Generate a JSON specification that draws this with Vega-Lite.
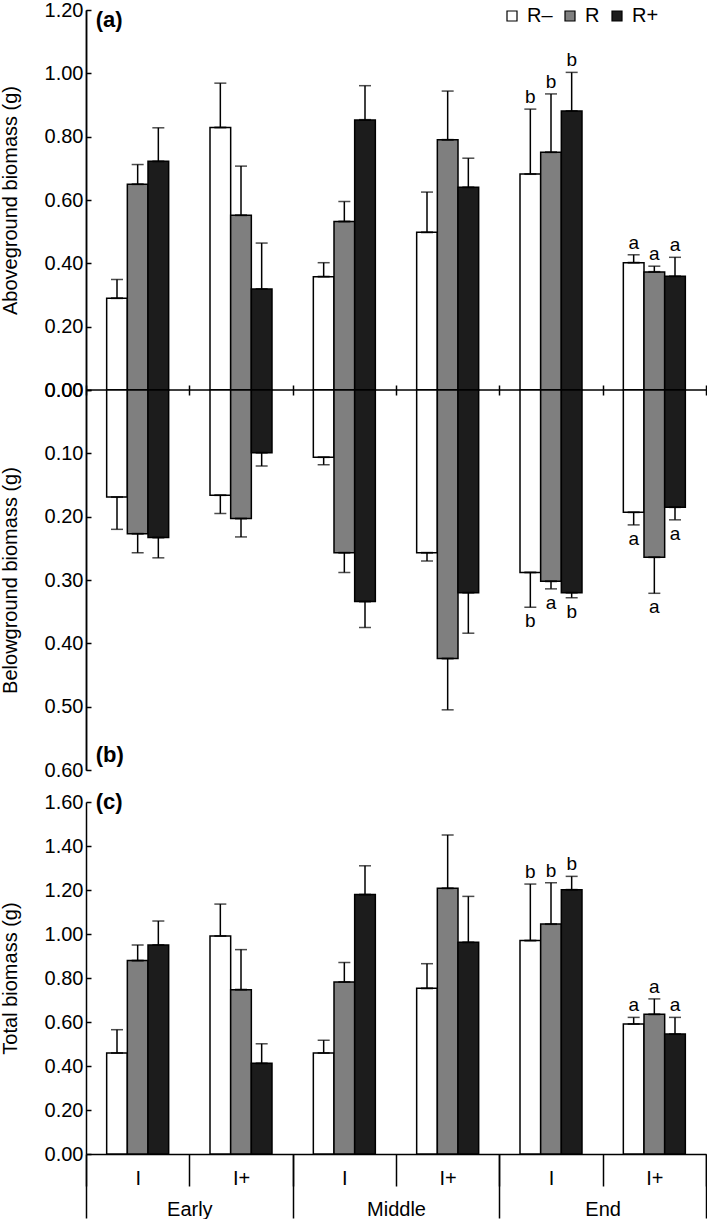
{
  "$schema": "https://vega.github.io/schema/vega-lite/v6.json",
  "padding": {"left": 0, "top": 0, "right": 0, "bottom": 0},
  "datasets": {
    "bio": [
      {"period": "Early", "group": "Early I", "treat": "R–", "above": 0.290, "aboveHi": 0.349, "below": 0.169, "belowHi": 0.220, "total": 0.459, "totalHi": 0.565, "la": "", "lb": "", "lt": ""},
      {"period": "Early", "group": "Early I", "treat": "R", "above": 0.650, "aboveHi": 0.712, "below": 0.227, "belowHi": 0.257, "total": 0.879, "totalHi": 0.950, "la": "", "lb": "", "lt": ""},
      {"period": "Early", "group": "Early I", "treat": "R+", "above": 0.722, "aboveHi": 0.828, "below": 0.233, "belowHi": 0.265, "total": 0.950, "totalHi": 1.059, "la": "", "lb": "", "lt": ""},
      {"period": "Early", "group": "Early I+", "treat": "R–", "above": 0.829, "aboveHi": 0.969, "below": 0.166, "belowHi": 0.195, "total": 0.991, "totalHi": 1.136, "la": "", "lb": "", "lt": ""},
      {"period": "Early", "group": "Early I+", "treat": "R", "above": 0.552, "aboveHi": 0.707, "below": 0.203, "belowHi": 0.232, "total": 0.747, "totalHi": 0.929, "la": "", "lb": "", "lt": ""},
      {"period": "Early", "group": "Early I+", "treat": "R+", "above": 0.319, "aboveHi": 0.464, "below": 0.099, "belowHi": 0.120, "total": 0.412, "totalHi": 0.501, "la": "", "lb": "", "lt": ""},
      {"period": "Middle", "group": "Middle I", "treat": "R–", "above": 0.358, "aboveHi": 0.402, "below": 0.106, "belowHi": 0.118, "total": 0.459, "totalHi": 0.517, "la": "", "lb": "", "lt": ""},
      {"period": "Middle", "group": "Middle I", "treat": "R", "above": 0.532, "aboveHi": 0.595, "below": 0.257, "belowHi": 0.288, "total": 0.782, "totalHi": 0.871, "la": "", "lb": "", "lt": ""},
      {"period": "Middle", "group": "Middle I", "treat": "R+", "above": 0.853, "aboveHi": 0.961, "below": 0.334, "belowHi": 0.375, "total": 1.179, "totalHi": 1.310, "la": "", "lb": "", "lt": ""},
      {"period": "Middle", "group": "Middle I+", "treat": "R–", "above": 0.498, "aboveHi": 0.625, "below": 0.257, "belowHi": 0.270, "total": 0.753, "totalHi": 0.865, "la": "", "lb": "", "lt": ""},
      {"period": "Middle", "group": "Middle I+", "treat": "R", "above": 0.790, "aboveHi": 0.944, "below": 0.424, "belowHi": 0.505, "total": 1.208, "totalHi": 1.450, "la": "", "lb": "", "lt": ""},
      {"period": "Middle", "group": "Middle I+", "treat": "R+", "above": 0.640, "aboveHi": 0.732, "below": 0.320, "belowHi": 0.384, "total": 0.962, "totalHi": 1.171, "la": "", "lb": "", "lt": ""},
      {"period": "End", "group": "End I", "treat": "R–", "above": 0.682, "aboveHi": 0.887, "below": 0.288, "belowHi": 0.343, "total": 0.970, "totalHi": 1.227, "la": "b", "lb": "b", "lt": "b"},
      {"period": "End", "group": "End I", "treat": "R", "above": 0.751, "aboveHi": 0.935, "below": 0.302, "belowHi": 0.314, "total": 1.045, "totalHi": 1.233, "la": "b", "lb": "a", "lt": "b"},
      {"period": "End", "group": "End I", "treat": "R+", "above": 0.881, "aboveHi": 1.003, "below": 0.320, "belowHi": 0.328, "total": 1.201, "totalHi": 1.262, "la": "b", "lb": "b", "lt": "b"},
      {"period": "End", "group": "End I+", "treat": "R–", "above": 0.402, "aboveHi": 0.427, "below": 0.193, "belowHi": 0.213, "total": 0.591, "totalHi": 0.621, "la": "a", "lb": "a", "lt": "a"},
      {"period": "End", "group": "End I+", "treat": "R", "above": 0.373, "aboveHi": 0.391, "below": 0.264, "belowHi": 0.321, "total": 0.635, "totalHi": 0.705, "la": "a", "lb": "a", "lt": "a"},
      {"period": "End", "group": "End I+", "treat": "R+", "above": 0.359, "aboveHi": 0.419, "below": 0.185, "belowHi": 0.205, "total": 0.545, "totalHi": 0.621, "la": "a", "lb": "a", "lt": "a"}
    ]
  },
  "spacing": 11,
  "resolve": {"scale": {"fill": "independent"}, "legend": {"fill": "independent"}},
  "vconcat": [
    {
      "width": 620,
      "height": 760,
      "data": {"name": "bio"},
      "layer": [
        {"mark": {"type": "bar", "stroke": "black", "strokeWidth": 1.5},
          "encoding": {
            "x": {"field": "group", "type": "nominal", "scale": {"type": "band", "domain": ["Early I", "Early I+", "Middle I", "Middle I+", "End I", "End I+"], "paddingInner": 0, "paddingOuter": 0},
              "axis": {"orient": "bottom", "title": null, "labels": false, "domain": false, "tickBand": "extent", "tickSize": 10, "offset": -385}},
            "xOffset": {"field": "treat", "type": "nominal", "scale": {"domain": ["R–", "R", "R+"], "paddingInner": 0, "paddingOuter": 1.04}},
            "y": {"field": "above", "type": "quantitative", "stack": null, "scale": {"domain": [-1.2, 1.2], "nice": false, "zero": false},
              "axis": {"orient": "left", "values": [0, 0.2, 0.4, 0.6, 0.8, 1.0, 1.2], "title": "Aboveground biomass (g)", "titleY": 190}},
            "fill": {"field": "treat", "type": "nominal", "scale": {"domain": ["R–", "R", "R+"], "range": ["#ffffff", "#7f7f7f", "#1c1c1c"]},
              "legend": {"orient": "none", "legendX": 416, "legendY": -4, "direction": "horizontal", "title": null, "symbolType": "square", "symbolSize": 100, "symbolStrokeColor": "black", "symbolStrokeWidth": 1.2, "symbolOpacity": 1, "labelFontSize": 20, "labelOffset": 5, "columnPadding": 7}}
          }},
        {"mark": {"type": "rule", "color": "black", "strokeWidth": 1.5},
          "encoding": {
            "x": {"field": "group", "type": "nominal", "scale": {"type": "band", "domain": ["Early I", "Early I+", "Middle I", "Middle I+", "End I", "End I+"], "paddingInner": 0, "paddingOuter": 0}, "axis": null},
            "xOffset": {"field": "treat", "type": "nominal"},
            "y": {"field": "above", "type": "quantitative", "scale": {"domain": [-1.2, 1.2], "nice": false, "zero": false}, "axis": null},
            "y2": {"field": "aboveHi"}
          }},
        {"mark": {"type": "tick", "color": "black", "size": 12, "thickness": 1.5},
          "encoding": {
            "x": {"field": "group", "type": "nominal", "scale": {"type": "band", "domain": ["Early I", "Early I+", "Middle I", "Middle I+", "End I", "End I+"], "paddingInner": 0, "paddingOuter": 0}, "axis": null},
            "xOffset": {"field": "treat", "type": "nominal"},
            "y": {"field": "aboveHi", "type": "quantitative", "scale": {"domain": [-1.2, 1.2], "nice": false, "zero": false}, "axis": null}
          }},
        {"mark": {"type": "tick", "color": "black", "size": 12, "thickness": 2},
          "encoding": {
            "x": {"field": "group", "type": "nominal", "scale": {"type": "band", "domain": ["Early I", "Early I+", "Middle I", "Middle I+", "End I", "End I+"], "paddingInner": 0, "paddingOuter": 0}, "axis": null},
            "xOffset": {"field": "treat", "type": "nominal"},
            "y": {"field": "above", "type": "quantitative", "scale": {"domain": [-1.2, 1.2], "nice": false, "zero": false}, "axis": null}
          }},
        {"mark": {"type": "text", "baseline": "alphabetic", "dy": -6, "fontSize": 19, "color": "black"},
          "encoding": {
            "x": {"field": "group", "type": "nominal", "scale": {"type": "band", "domain": ["Early I", "Early I+", "Middle I", "Middle I+", "End I", "End I+"], "paddingInner": 0, "paddingOuter": 0}, "axis": null},
            "xOffset": {"field": "treat", "type": "nominal"},
            "y": {"field": "aboveHi", "type": "quantitative", "scale": {"domain": [-1.2, 1.2], "nice": false, "zero": false}, "axis": null},
            "text": {"field": "la"}
          }},
        {"data": {"values": [{}]}, "mark": {"type": "rule", "color": "black", "strokeWidth": 1.5},
          "encoding": {"y": {"datum": 0, "type": "quantitative", "scale": {"domain": [-1.2, 1.2], "nice": false, "zero": false}, "axis": null}}},
        {"data": {"values": [{}]}, "mark": {"type": "text", "text": "(a)", "fontWeight": "bold", "fontSize": 22, "align": "left", "baseline": "middle", "dx": -42, "color": "black"},
          "encoding": {"x": {"datum": "Early I", "type": "nominal", "scale": {"type": "band", "domain": ["Early I", "Early I+", "Middle I", "Middle I+", "End I", "End I+"], "paddingInner": 0, "paddingOuter": 0}, "axis": null},
            "y": {"datum": 1.168, "type": "quantitative", "scale": {"domain": [-1.2, 1.2], "nice": false, "zero": false}, "axis": null}}},
        {"mark": {"type": "bar", "stroke": "black", "strokeWidth": 1.5},
          "encoding": {
            "x": {"field": "group", "type": "nominal", "scale": {"type": "band", "domain": ["Early I", "Early I+", "Middle I", "Middle I+", "End I", "End I+"], "paddingInner": 0, "paddingOuter": 0}, "axis": null},
            "xOffset": {"field": "treat", "type": "nominal"},
            "y": {"field": "below", "type": "quantitative", "stack": null, "scale": {"domain": [-0.6, 0.6], "reverse": true, "nice": false, "zero": false},
              "axis": {"orient": "left", "values": [0, 0.1, 0.2, 0.3, 0.4, 0.5, 0.6], "title": "Belowground biomass (g)", "titleY": 570}},
            "fill": {"field": "treat", "type": "nominal"}
          }},
        {"mark": {"type": "rule", "color": "black", "strokeWidth": 1.5},
          "encoding": {
            "x": {"field": "group", "type": "nominal", "scale": {"type": "band", "domain": ["Early I", "Early I+", "Middle I", "Middle I+", "End I", "End I+"], "paddingInner": 0, "paddingOuter": 0}, "axis": null},
            "xOffset": {"field": "treat", "type": "nominal"},
            "y": {"field": "below", "type": "quantitative", "scale": {"domain": [-0.6, 0.6], "reverse": true, "nice": false, "zero": false}, "axis": null},
            "y2": {"field": "belowHi"}
          }},
        {"mark": {"type": "tick", "color": "black", "size": 12, "thickness": 1.5},
          "encoding": {
            "x": {"field": "group", "type": "nominal", "scale": {"type": "band", "domain": ["Early I", "Early I+", "Middle I", "Middle I+", "End I", "End I+"], "paddingInner": 0, "paddingOuter": 0}, "axis": null},
            "xOffset": {"field": "treat", "type": "nominal"},
            "y": {"field": "belowHi", "type": "quantitative", "scale": {"domain": [-0.6, 0.6], "reverse": true, "nice": false, "zero": false}, "axis": null}
          }},
        {"mark": {"type": "tick", "color": "black", "size": 12, "thickness": 2},
          "encoding": {
            "x": {"field": "group", "type": "nominal", "scale": {"type": "band", "domain": ["Early I", "Early I+", "Middle I", "Middle I+", "End I", "End I+"], "paddingInner": 0, "paddingOuter": 0}, "axis": null},
            "xOffset": {"field": "treat", "type": "nominal"},
            "y": {"field": "below", "type": "quantitative", "scale": {"domain": [-0.6, 0.6], "reverse": true, "nice": false, "zero": false}, "axis": null}
          }},
        {"mark": {"type": "text", "baseline": "top", "dy": 5, "fontSize": 19, "color": "black"},
          "encoding": {
            "x": {"field": "group", "type": "nominal", "scale": {"type": "band", "domain": ["Early I", "Early I+", "Middle I", "Middle I+", "End I", "End I+"], "paddingInner": 0, "paddingOuter": 0}, "axis": null},
            "xOffset": {"field": "treat", "type": "nominal"},
            "y": {"field": "belowHi", "type": "quantitative", "scale": {"domain": [-0.6, 0.6], "reverse": true, "nice": false, "zero": false}, "axis": null},
            "text": {"field": "lb"}
          }},
        {"data": {"values": [{}]}, "mark": {"type": "text", "text": "(b)", "fontWeight": "bold", "fontSize": 22, "align": "left", "baseline": "middle", "dx": -42, "color": "black"},
          "encoding": {"x": {"datum": "Early I", "type": "nominal", "scale": {"type": "band", "domain": ["Early I", "Early I+", "Middle I", "Middle I+", "End I", "End I+"], "paddingInner": 0, "paddingOuter": 0}, "axis": null},
            "y": {"datum": 0.576, "type": "quantitative", "scale": {"domain": [-0.6, 0.6], "reverse": true, "nice": false, "zero": false}, "axis": null}}}
      ],
      "resolve": {"scale": {"x": "independent", "y": "independent"}, "axis": {"x": "independent", "y": "independent"}}
    },
    {
      "width": 620,
      "height": 352,
      "data": {"name": "bio"},
      "layer": [
        {"mark": {"type": "bar", "stroke": "black", "strokeWidth": 1.5},
          "encoding": {
            "x": {"field": "group", "type": "nominal", "scale": {"type": "band", "domain": ["Early I", "Early I+", "Middle I", "Middle I+", "End I", "End I+"], "paddingInner": 0, "paddingOuter": 0},
              "axis": {"orient": "bottom", "title": null, "domain": true, "tickBand": "extent", "tickSize": 32, "labelPadding": -18, "labelAngle": 0, "labelExpr": "split(datum.label, ' ')[1]"}},
            "xOffset": {"field": "treat", "type": "nominal", "scale": {"domain": ["R–", "R", "R+"], "paddingInner": 0, "paddingOuter": 1.04}},
            "y": {"field": "total", "type": "quantitative", "stack": null, "scale": {"domain": [0, 1.6], "nice": false},
              "axis": {"orient": "left", "values": [0, 0.2, 0.4, 0.6, 0.8, 1.0, 1.2, 1.4, 1.6], "title": "Total biomass (g)"}},
            "fill": {"field": "treat", "type": "nominal", "scale": {"domain": ["R–", "R", "R+"], "range": ["#ffffff", "#7f7f7f", "#1c1c1c"]}, "legend": null}
          }},
        {"mark": {"type": "rule", "color": "black", "strokeWidth": 1.5},
          "encoding": {
            "x": {"field": "group", "type": "nominal", "scale": {"type": "band", "domain": ["Early I", "Early I+", "Middle I", "Middle I+", "End I", "End I+"], "paddingInner": 0, "paddingOuter": 0}, "axis": null},
            "xOffset": {"field": "treat", "type": "nominal"},
            "y": {"field": "total", "type": "quantitative", "scale": {"domain": [0, 1.6], "nice": false}, "axis": null},
            "y2": {"field": "totalHi"}
          }},
        {"mark": {"type": "tick", "color": "black", "size": 12, "thickness": 1.5},
          "encoding": {
            "x": {"field": "group", "type": "nominal", "scale": {"type": "band", "domain": ["Early I", "Early I+", "Middle I", "Middle I+", "End I", "End I+"], "paddingInner": 0, "paddingOuter": 0}, "axis": null},
            "xOffset": {"field": "treat", "type": "nominal"},
            "y": {"field": "totalHi", "type": "quantitative", "scale": {"domain": [0, 1.6], "nice": false}, "axis": null}
          }},
        {"mark": {"type": "tick", "color": "black", "size": 12, "thickness": 2},
          "encoding": {
            "x": {"field": "group", "type": "nominal", "scale": {"type": "band", "domain": ["Early I", "Early I+", "Middle I", "Middle I+", "End I", "End I+"], "paddingInner": 0, "paddingOuter": 0}, "axis": null},
            "xOffset": {"field": "treat", "type": "nominal"},
            "y": {"field": "total", "type": "quantitative", "scale": {"domain": [0, 1.6], "nice": false}, "axis": null}
          }},
        {"mark": {"type": "text", "baseline": "alphabetic", "dy": -6, "fontSize": 19, "color": "black"},
          "encoding": {
            "x": {"field": "group", "type": "nominal", "scale": {"type": "band", "domain": ["Early I", "Early I+", "Middle I", "Middle I+", "End I", "End I+"], "paddingInner": 0, "paddingOuter": 0}, "axis": null},
            "xOffset": {"field": "treat", "type": "nominal"},
            "y": {"field": "totalHi", "type": "quantitative", "scale": {"domain": [0, 1.6], "nice": false}, "axis": null},
            "text": {"field": "lt"}
          }},
        {"data": {"values": [{}]}, "mark": {"type": "text", "text": "(c)", "fontWeight": "bold", "fontSize": 22, "align": "left", "baseline": "middle", "dx": -42, "color": "black"},
          "encoding": {"x": {"datum": "Early I", "type": "nominal", "scale": {"type": "band", "domain": ["Early I", "Early I+", "Middle I", "Middle I+", "End I", "End I+"], "paddingInner": 0, "paddingOuter": 0}, "axis": null},
            "y": {"datum": 1.6, "type": "quantitative", "scale": {"domain": [0, 1.6], "nice": false}, "axis": null}}},
        {"mark": {"type": "point", "opacity": 0},
          "encoding": {
            "x": {"field": "period", "type": "nominal", "scale": {"type": "band", "domain": ["Early", "Middle", "End"], "paddingInner": 0, "paddingOuter": 0},
              "axis": {"orient": "bottom", "title": null, "domain": false, "tickBand": "extent", "tickSize": 64, "labelPadding": -19, "labelAngle": 0}},
            "y": {"datum": 0, "type": "quantitative", "scale": {"domain": [0, 1.6], "nice": false}, "axis": null}
          }}
      ],
      "resolve": {"scale": {"x": "independent", "y": "independent"}, "axis": {"x": "independent", "y": "independent"}}
    }
  ],
  "config": {
    "font": "Liberation Sans",
    "view": {"stroke": null},
    "axis": {"domainColor": "black", "tickColor": "black", "labelColor": "black", "titleColor": "black", "domainWidth": 1.5, "tickWidth": 1.5, "labelFontSize": 20, "titleFontSize": 20, "titleFontWeight": "normal", "grid": false, "labelFont": "Liberation Sans", "titleFont": "Liberation Sans"},
    "axisY": {"tickSize": -5, "labelPadding": 8, "format": ".2f", "titlePadding": 24},
    "legend": {"labelFont": "Liberation Sans", "labelColor": "black"}
  }
}
